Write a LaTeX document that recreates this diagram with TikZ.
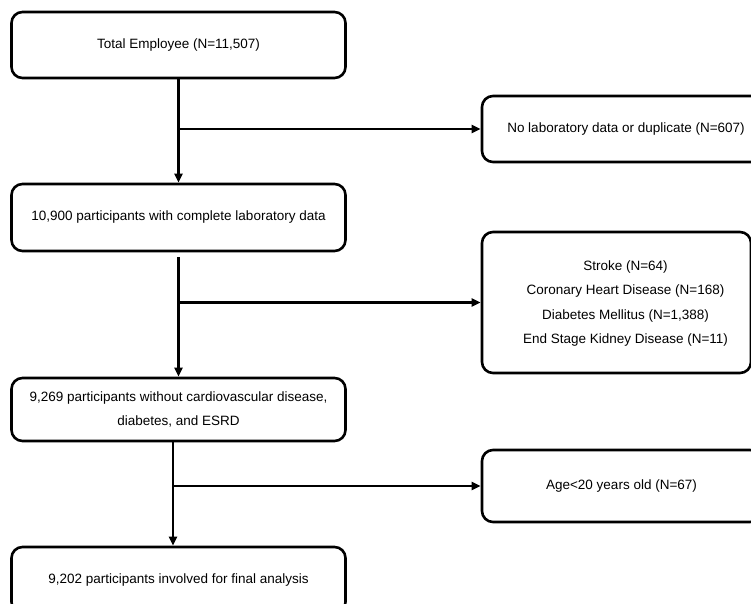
\documentclass[tikz,border=0pt]{standalone}
\usepackage{fontspec}
\setmainfont{Liberation Sans}
\usetikzlibrary{arrows.meta}
\begin{document}
\begin{tikzpicture}[x=1pt,y=-1pt,
  box/.style={draw=black, line width=2.6pt, rounded corners=11pt, minimum height=#1, inner sep=0pt, align=center, font=\fontsize{13.5}{24.5}\selectfont},
  box/.default=66pt,
  txt/.style={inner sep=0pt, align=center, font=\fontsize{13.5}{24.5}\selectfont},
  arr/.style={line width=2.6pt, -{Triangle[length=9pt,width=8pt]}}]
\useasboundingbox (0,0) rectangle (751,604);
% left column
\node[box=66pt, minimum width=334pt] (a) at (178.5,45) {Total Employee (N=11,507)};
\node[box=67pt, minimum width=334pt] (b) at (178.5,217.5) {10,900 participants with complete laboratory data};
\node[box=63pt, minimum width=334pt] (c) at (178.5,409.5) {9,269 participants without cardiovascular disease,\\diabetes, and ESRD};
\node[box=66pt, minimum width=334pt] (d) at (178.5,580) {9,202 participants involved for final analysis};
% right column
\node[box=66pt, minimum width=288pt] (r1) at (626,129) {No laboratory data or duplicate (N=607)};
\node[box=141pt, minimum width=269pt] (r2) at (616.5,302.5) {};
\node[txt] (r2t) at (625.5,303.5) {Stroke (N=64)\\Coronary Heart Disease (N=168)\\Diabetes Mellitus (N=1,388)\\End Stage Kidney Disease (N=11)};
\node[box=72pt, minimum width=279pt] (r3) at (621.5,486) {Age<20 years old (N=67)};
% connectors
\draw[arr] (a.south) -- (b.north);
\coordinate (j1) at (a.south |- r1.west);
\draw[arr] (j1) -- (r1.west);
\draw[arr, shorten <=5pt] (b.south) -- (c.north);
\coordinate (j2) at (b.south |- r2.west);
\draw[arr] (j2) -- (r2.west);
\coordinate (c2) at ([xshift=-5.5pt]c.south);
\coordinate (d2) at (c2 |- d.north);
\draw[arr] (c2) -- (d2);
\coordinate (j3) at (c2 |- r3.west);
\draw[arr] (j3) -- (r3.west);
\end{tikzpicture}
\end{document}
